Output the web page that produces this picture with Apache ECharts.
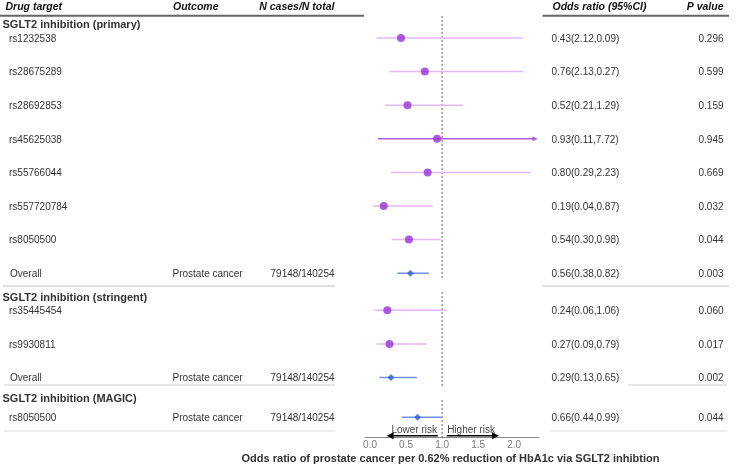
<!DOCTYPE html>
<html>
<head>
<meta charset="utf-8">
<script src="https://cdn.jsdelivr.net/npm/echarts@6/dist/echarts.min.js"></script>
<style>
html,body{margin:0;padding:0;background:#fff;}
#chart{width:741px;height:467px;}
</style>
</head>
<body>
<div id="chart"></div>
<script>
// ---------------- data ----------------
const groupNames = ['SGLT2 inhibition (primary)', 'SGLT2 inhibition (stringent)', 'SGLT2 inhibition (MAGIC)'];
const rowLabels = ['rs1232538', 'rs28675289', 'rs28692853', 'rs45625038', 'rs55766044', 'rs557720784', 'rs8050500', 'Overall',
                   'rs35445454', 'rs9930811', 'Overall',
                   'rs8050500'];
const rowGroup = [0, 0, 0, 0, 0, 0, 0, 0, 1, 1, 1, 2];
const rowPooled = [false, false, false, false, false, false, false, true, false, false, true, true];
const outcomes = ['', '', '', '', '', '', '', 'Prostate cancer', '', '', 'Prostate cancer', 'Prostate cancer'];
const nCasesTotal = ['', '', '', '', '', '', '', '79148/140254', '', '', '79148/140254', '79148/140254'];
const oddsRatio = [0.43, 0.76, 0.52, 0.93, 0.80, 0.19, 0.54, 0.56, 0.24, 0.27, 0.29, 0.66];
const ciLower = [0.09, 0.27, 0.21, 0.11, 0.29, 0.04, 0.30, 0.38, 0.06, 0.09, 0.13, 0.44];
const ciUpper = [2.12, 2.13, 1.29, 7.72, 2.23, 0.87, 0.98, 0.82, 1.06, 0.79, 0.65, 0.99];
const orLabels = ['0.43(2.12,0.09)', '0.76(2.13,0.27)', '0.52(0.21,1.29)', '0.93(0.11,7.72)', '0.80(0.29,2.23)',
                  '0.19(0.04,0.87)', '0.54(0.30,0.98)', '0.56(0.38,0.82)', '0.24(0.06,1.06)', '0.27(0.09,0.79)',
                  '0.29(0.13,0.65)', '0.66(0.44,0.99)'];
const pValues = ['0.296', '0.599', '0.159', '0.945', '0.669', '0.032', '0.044', '0.003', '0.060', '0.017', '0.002', '0.044'];
const xTicks = [0, 0.5, 1.0, 1.5, 2.0];
const headers = ['Drug target', 'Outcome', 'N cases/N total', 'Odds ratio (95%CI)', 'P value'];
const refValue = 1;
const xTitle = 'Odds ratio of prostate cancer per 0.62% reduction of HbA1c via SGLT2 inhibtion';
const riskLabels = ['Lower risk', 'Higher risk'];

// ---------------- layout ----------------
const FONT = '"Liberation Sans", Arial, Helvetica, sans-serif';
const groupOffset = [0, 0.104, 0.289];
const rowY = rowLabels.map((_, i) => i + groupOffset[rowGroup[i]]);
const headingY = [-0.417, 7.717, 10.714];
const yMin = -0.655, yMax = 11.896;
const xMin = -0.07, xMax = 2.345, arrowClip = 2.31;
const refSegments = [[yMin, 7.202], [7.560, 10.357], [10.774, yMax]];

const purple = '#9b30d6', lavender = '#e3b6f6', arrowPurple = '#b25ae8';
const blue = '#2f62d8', lightBlue = '#6d92e8';

const ciData = rowLabels.map((_, i) => [ciLower[i], ciUpper[i], rowY[i], rowPooled[i] ? 1 : 0]);
const snpPts = [], poolPts = [];
rowLabels.forEach((_, i) => (rowPooled[i] ? poolPts : snpPts).push([oddsRatio[i], rowY[i]]));

const chart = echarts.init(document.getElementById('chart'), null, {renderer: 'canvas'});
chart.setOption({
  animation: false,
  backgroundColor: '#fff',
  grid: {left: 365, right: 202, top: 16, bottom: 29.3, containLabel: false},
  xAxis: {
    type: 'value', min: xMin, max: xMax,
    axisLine: {show: true, onZero: false, lineStyle: {color: '#8a8a8a', width: 1}},
    axisTick: {show: false},
    splitLine: {show: false},
    axisLabel: {customValues: xTicks, formatter: v => Number(v).toFixed(1), color: '#7a7a7a',
                fontSize: 10, fontFamily: FONT, margin: 3}
  },
  yAxis: {type: 'value', inverse: true, min: yMin, max: yMax, show: false},
  series: [
    { // reference line
      type: 'custom', silent: true, z: 1,
      data: refSegments,
      renderItem: (params, api) => {
        const a = api.coord([refValue, api.value(0)]);
        const b = api.coord([refValue, api.value(1)]);
        return {type: 'line', shape: {x1: a[0], y1: a[1], x2: b[0], y2: b[1]},
                style: {stroke: '#555', lineWidth: 0.9, lineDash: [2, 2]}};
      }
    },
    { // confidence intervals
      type: 'custom', silent: true, z: 2,
      data: ciData,
      renderItem: (params, api) => {
        const lo = api.value(0), hi = api.value(1), y = api.value(2), pooled = api.value(3);
        const clipped = hi > xMax;
        const a = api.coord([lo, y]);
        const b = api.coord([clipped ? arrowClip : hi, y]);
        const col = pooled ? lightBlue : (clipped ? arrowPurple : lavender);
        const children = [{type: 'line', shape: {x1: a[0], y1: a[1], x2: b[0], y2: b[1]},
                           style: {stroke: col, lineWidth: 1.5}}];
        if (clipped) {
          children.push({type: 'polygon', shape: {points: [[b[0] + 1, b[1]], [b[0] - 4, b[1] - 2.5], [b[0] - 4, b[1] + 2.5]]},
                         style: {fill: arrowPurple}});
        }
        return {type: 'group', children};
      }
    },
    {type: 'scatter', data: snpPts, symbol: 'circle', symbolSize: 8, itemStyle: {color: purple}, z: 3, silent: true},
    {type: 'scatter', data: poolPts, symbol: 'diamond', symbolSize: 7, itemStyle: {color: blue}, z: 3, silent: true},
    { // risk arrows and labels
      type: 'custom', silent: true, z: 4,
      data: [[0]],
      renderItem: (params, api) => {
        const yA = 11.836, yT = 11.667;
        const l0 = api.coord([0.94, yA]), l1 = api.coord([0.23, yA]);
        const r0 = api.coord([1.065, yA]), r1 = api.coord([1.79, yA]);
        const tl = api.coord([0.93, yT]), tr = api.coord([1.07, yT]);
        const head = (p, dir) => ({type: 'polygon',
          shape: {points: [[p[0], p[1]], [p[0] - dir * 7, p[1] - 3.5], [p[0] - dir * 7, p[1] + 3.5]]},
          style: {fill: '#000'}});
        return {type: 'group', children: [
          {type: 'line', shape: {x1: l0[0], y1: l0[1], x2: l1[0] + 4, y2: l1[1]}, style: {stroke: '#000', lineWidth: 1.6}},
          head(l1, -1),
          {type: 'line', shape: {x1: r0[0], y1: r0[1], x2: r1[0] - 4, y2: r1[1]}, style: {stroke: '#000', lineWidth: 1.6}},
          head(r1, 1),
          {type: 'text', x: tl[0], y: tl[1], style: {text: riskLabels[0], align: 'right', verticalAlign: 'middle',
            fill: '#444', font: '10px ' + FONT}},
          {type: 'text', x: tr[0], y: tr[1], style: {text: riskLabels[1], align: 'left', verticalAlign: 'middle',
            fill: '#444', font: '10px ' + FONT}}
        ]};
      }
    }
  ]
});

// ---------------- table text ----------------
const yPx = v => chart.convertToPixel({yAxisIndex: 0}, v);
const g = [];
const txt = (text, x, y, align, font, fill) => g.push({type: 'text', x, y, silent: true,
  style: {text, align, verticalAlign: 'middle', font, fill}});
const hline = (x1, x2, y, stroke, w) => g.push({type: 'line', silent: true,
  shape: {x1, y1: y, x2, y2: y}, style: {stroke, lineWidth: w}});

const headFont = 'italic bold 10.5px ' + FONT;
const hy = yPx(-0.932);
txt(headers[0], 5.5, hy, 'left', headFont, '#111');
txt(headers[1], 173, hy, 'left', headFont, '#111');
txt(headers[2], 334.5, hy, 'right', headFont, '#111');
txt(headers[3], 552.5, hy, 'left', headFont, '#111');
txt(headers[4], 723.5, hy, 'right', headFont, '#111');
const hl = yPx(-0.664);
hline(0, 364, hl, '#666', 2);
hline(542.5, 729, hl, '#666', 2);

groupNames.forEach((name, k) => txt(name, 2.5, yPx(headingY[k]) + 0.5, 'left', 'bold 11px ' + FONT, '#333'));

const rowFont = '10px ' + FONT;
rowLabels.forEach((lab, i) => {
  const y = yPx(rowY[i]) + 1;
  txt(lab, lab === 'Overall' ? 10 : 9, y, 'left', rowFont, '#333');
  if (outcomes[i]) txt(outcomes[i], 172.5, y, 'left', rowFont, '#333');
  if (nCasesTotal[i]) txt(nCasesTotal[i], 334.5, y, 'right', rowFont, '#333');
  txt(orLabels[i], 551.5, y, 'left', rowFont, '#333');
  txt(pValues[i], 723.5, y, 'right', rowFont, '#333');
});

// separators
hline(3, 335, yPx(7.381), '#bdbdbd', 1);
hline(542.5, 729, yPx(7.381), '#bdbdbd', 1);
hline(4, 335, yPx(10.327), '#d0d0d0', 1);
hline(628, 727, yPx(10.327), '#d0d0d0', 1);
hline(4, 335, yPx(11.696), '#dadada', 1);
hline(550, 727, yPx(11.696), '#dadada', 1);

// x title
txt(xTitle, 450.5, 459, 'center', 'bold 11px ' + FONT, '#333');

chart.setOption({graphic: g});
</script>
</body>
</html>
